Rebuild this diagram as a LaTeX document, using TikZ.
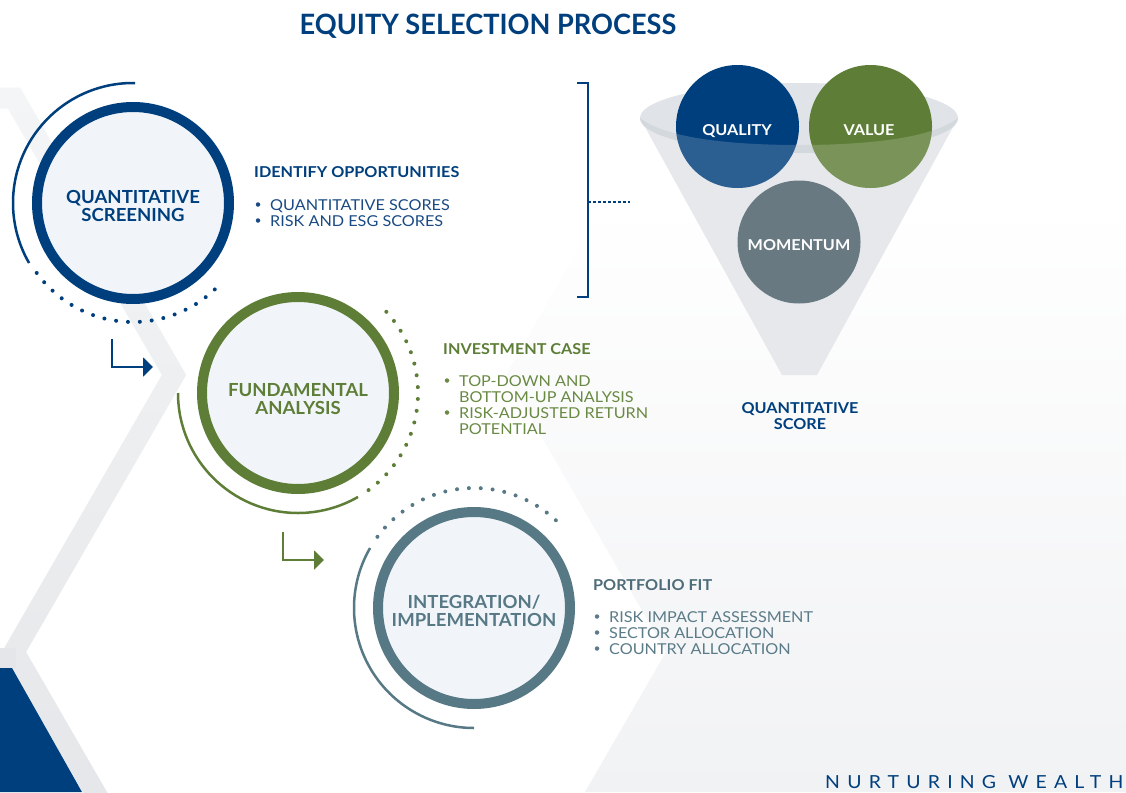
\documentclass[tikz,border=0pt]{standalone}
\usepackage{fontspec}
\setmainfont{Lato}[FakeStretch=1.08]
\newfontfamily\stagefont{Lato}[FakeStretch=1.03]
\newfontfamily\titlefont{Lato}[FakeStretch=0.97]
\usetikzlibrary{arrows.meta}
\definecolor{navy}{HTML}{003F7D}
\definecolor{navytext}{HTML}{1A4A84}
\definecolor{leaf}{HTML}{5E7E37}
\definecolor{leaftext}{HTML}{6A8A44}
\definecolor{slate}{HTML}{577885}
\definecolor{slatehead}{HTML}{4E6C79}
\definecolor{slatetext}{HTML}{5B7B88}
\definecolor{mom}{HTML}{687982}
\definecolor{ringfill}{HTML}{F1F5F9}
\definecolor{stripetop}{HTML}{F4F5F6}
\definecolor{stripemid}{HTML}{ECEDF0}
\definecolor{stripebot}{HTML}{E2E4E7}
\definecolor{bgright}{HTML}{F1F2F4}
\definecolor{funnelc}{HTML}{E6E8EC}
\definecolor{rimc}{HTML}{E0E3E7}
\definecolor{bandc}{HTML}{D3D8DD}
\begin{document}
\begin{tikzpicture}[x=1pt,y=-1pt,
  stagecirc/.style={circle, line width=10pt, fill=ringfill, minimum size=192pt, inner sep=0pt},
  stagelabel/.style={font=\stagefont\fontsize{18}{18}\selectfont\bfseries, align=center, inner sep=0pt},
  blockhead/.style={font=\fontsize{15}{16}\selectfont\bfseries, anchor=base west, inner sep=0pt},
  blockitem/.style={font=\fontsize{15}{16}\selectfont, anchor=base west, inner sep=0pt},
  bulletdot/.style={circle, inner sep=0pt, minimum size=4.5pt},
  outerarc/.style={line width=2.5pt},
  dotarc/.style={line width=4pt, line cap=round, dash pattern=on 0pt off 11.9pt},
  ballnode/.style={circle, minimum size=123pt, inner sep=0pt},
  balltext/.style={text=white, font=\fontsize{15}{15}\selectfont\bfseries, anchor=base, inner sep=0pt},
  steparrow/.style={line width=2pt}]
\useasboundingbox (0,0) rectangle (1126,792);
\fill[white] (0,0) rectangle (1126,792);
% background honeycomb
\begin{scope}
\clip (0,0) rectangle (1126,792);
\shade[top color=white, middle color=bgright, bottom color=bgright] (607,200) -- (506,375) -- (666,652) -- (585,792) -- (1126,792) -- (1126,200) -- cycle;
\shade[top color=stripetop, middle color=stripemid, bottom color=stripebot]
  (-20,87.5) -- (20.06,87.5) -- (186.12,375) -- (26.12,652) -- (183.09,923.75) -- (164.91,934.25) -- (1.88,652) -- (161.88,375) -- (7.94,108.5) -- (-20,108.5) -- cycle;
\fill[stripebot!80!stripemid] (-20,648) rectangle (16,668);
\fill[navy] (0,668) -- (12,668) -- (82,792) -- (0,792) -- cycle;
\end{scope}
% title and tagline
\node[anchor=base, font=\titlefont\bfseries\fontsize{28}{28}\selectfont, text=navy, inner sep=0pt] (title) at (488,35) {EQUITY SELECTION PROCESS};
\node[anchor=base west, font=\fontsize{18}{18}\selectfont\addfontfeatures{LetterSpace=40}, text=navy, inner sep=0pt] (tag) at (825,788) {NURTURING WEALTH};
% stage circles
\node[stagecirc, draw=navy] (qs) at (133,203) {};
\node[stagecirc, draw=leaf] (fa) at (298,393) {};
\node[stagecirc, draw=slate] (ii) at (474,608) {};
\node[stagelabel, text=navy] (qsl) at (133,206) {QUANTITATIVE\\SCREENING};
\node[stagelabel, text=leaf] (fal) at (298,399) {FUNDAMENTAL\\ANALYSIS};
\node[stagelabel, text=slate] (iil) at (474,611) {INTEGRATION/\\IMPLEMENTATION};
% outer arcs
\draw[outerarc, navy] (qs.center) ++(-89:120) arc[start angle=-89, end angle=-210, radius=120];
\draw[dotarc, navy] (qs.center) ++(-216:119) arc[start angle=-216, end angle=-314, radius=119];
\draw[outerarc, leaf] (fa.center) ++(-180:120) arc[start angle=-180, end angle=-300, radius=120];
\draw[dotarc, leaf] (fa.center) ++(54:120) arc[start angle=54, end angle=-43, radius=120];
\draw[outerarc, slate] (ii.center) ++(-150:120) arc[start angle=-150, end angle=-270, radius=120];
\draw[dotarc, slate] (ii.center) ++(-47:120) arc[start angle=-47, end angle=-145, radius=120];
% step arrows
\coordinate (a1s) at (112,339);
\coordinate (a1e) at (153,367);
\coordinate (a2s) at (283,532);
\coordinate (a2e) at (324,560);
\draw[steparrow, navy, -{Triangle[length=10pt,width=19pt]}] (a1s) |- (a1e);
\draw[steparrow, leaf, -{Triangle[length=10pt,width=19pt]}] (a2s) |- (a2e);
% text block 1
\node[blockhead, text=navy] (h1) at (254,177) {IDENTIFY OPPORTUNITIES};
\node[bulletdot, fill=navytext] (b11) at (258,204.5) {};
\node[blockitem, text=navytext] (t11) at (270,210) {QUANTITATIVE SCORES};
\node[bulletdot, fill=navytext] (b12) at (258,220.5) {};
\node[blockitem, text=navytext] (t12) at (270,226) {RISK AND ESG SCORES};
% text block 2
\node[blockhead, text=leaf] (h2) at (443,354) {INVESTMENT CASE};
\node[bulletdot, fill=leaftext] (b21) at (447,380.5) {};
\node[blockitem, text=leaftext] (t21) at (459,386) {TOP-DOWN AND};
\node[blockitem, text=leaftext] (t22) at (459,402) {BOTTOM-UP ANALYSIS};
\node[bulletdot, fill=leaftext] (b22) at (447,412.5) {};
\node[blockitem, text=leaftext] (t23) at (459,418) {RISK-ADJUSTED RETURN};
\node[blockitem, text=leaftext] (t24) at (459,434) {POTENTIAL};
% text block 3
\node[blockhead, text=slatehead] (h3) at (593,590) {PORTFOLIO FIT};
\node[bulletdot, fill=slatetext] (b31) at (597,616.5) {};
\node[blockitem, text=slatetext] (t31) at (609,622) {RISK IMPACT ASSESSMENT};
\node[bulletdot, fill=slatetext] (b32) at (597,632.5) {};
\node[blockitem, text=slatetext] (t32) at (609,638) {SECTOR ALLOCATION};
\node[bulletdot, fill=slatetext] (b33) at (597,648.5) {};
\node[blockitem, text=slatetext] (t33) at (609,654) {COUNTRY ALLOCATION};
% bracket
\coordinate (brt) at (577,83);
\coordinate (brb) at (577,297);
\coordinate (brm) at (588,202);
\coordinate (brx) at (630,202);
\draw[navy, line width=1.3pt] (brt) -- ++(11,0) |- (brb);
\draw[navy, line width=1.1pt, dash pattern=on 3pt off 2pt] (brm) -- (brx);
% funnel
\fill[funnelc] (640,118) -- (782,375) -- (817,375) -- (958,118) -- cycle;
\fill[rimc] (799,118) ellipse[x radius=159, y radius=35];
\fill[bandc] (640,118) .. controls (665,138) and (730,145) .. (799,145) .. controls (868,145) and (933,138) .. (958,118) arc[start angle=0, end angle=180, x radius=159, y radius=35] -- cycle;
\node[ballnode, fill=navy] (qual) at (737.5,126.5) {};
\node[ballnode, fill=leaf] (val) at (870.5,126.5) {};
\begin{scope}
\clip (737.5,126.5) circle[radius=61.5];
\fill[white, opacity=0.17] (640,118) .. controls (665,138) and (730,145) .. (799,145) .. controls (868,145) and (933,138) .. (958,118) -- (958,300) -- (640,300) -- cycle;
\end{scope}
\begin{scope}
\clip (870.5,126.5) circle[radius=61.5];
\fill[white, opacity=0.17] (640,118) .. controls (665,138) and (730,145) .. (799,145) .. controls (868,145) and (933,138) .. (958,118) -- (958,300) -- (640,300) -- cycle;
\end{scope}
\node[ballnode, fill=mom] (mom) at (799,242) {};
\node[balltext] (qualt) at (737,135) {QUALITY};
\node[balltext] (valt) at (869,135) {VALUE};
\node[balltext] (momt) at (799,250) {MOMENTUM};
\node[font=\fontsize{15}{16}\selectfont\bfseries, text=navy, align=center, inner sep=0pt] (score) at (800,416.5) {QUANTITATIVE\\SCORE};
\end{tikzpicture}
\end{document}
